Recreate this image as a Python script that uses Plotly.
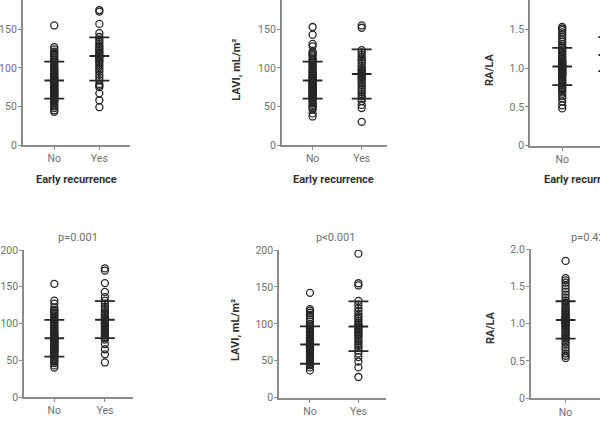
import plotly.graph_objects as go

W, H = 600, 431

groups = ["No", "Yes"]

# ---- data ----
a1_no = [155, 127, 124, 121, 119, 117, 115, 113, 111, 110, 108, 106, 104, 102, 100, 99, 97, 96, 94, 93, 91, 90, 89, 88, 87, 86, 85, 84, 83, 82, 81, 80, 79, 78, 77, 76, 75, 74, 73, 72, 71, 70, 69, 68, 67, 66, 65, 64, 63, 62, 61, 60, 59, 58, 57, 56, 54, 52, 50, 48, 45, 43]
a1_yes = [175, 173, 157, 145, 140, 137, 134, 131, 128, 126, 124, 122, 120, 118, 116, 114, 113, 111, 109, 107, 104, 101, 98, 95, 91, 88, 84, 79, 77, 75, 67, 58, 49]
a1_mean = [83.5, 115.5]
a1_low = [60, 83.5]
a1_high = [108, 139.5]

a2_no = [153, 143, 131, 128, 121, 119, 117, 115, 112, 110, 108, 106, 104, 102, 100, 98, 96, 95, 93, 91, 90, 88, 87, 86, 84, 83, 82, 81, 80, 79, 78, 77, 76, 75, 74, 73, 72, 71, 70, 69, 68, 67, 66, 65, 64, 63, 62, 61, 60, 58, 56, 54, 52, 50, 48, 46, 41, 37]
a2_yes = [155, 152, 123, 120, 117, 114, 111, 109, 106, 103, 100, 98, 96, 94, 92, 90, 88, 86, 84, 81, 78, 75, 72, 69, 66, 63, 60, 57, 52, 48, 30]
a2_mean = [83.5, 92]
a2_low = [60, 60]
a2_high = [108, 124]

a3_no = [1.53, 1.51, 1.49, 1.46, 1.43, 1.40, 1.37, 1.34, 1.31, 1.28, 1.26, 1.24, 1.22, 1.20, 1.18, 1.16, 1.14, 1.12, 1.10, 1.09, 1.08, 1.07, 1.06, 1.05, 1.04, 1.03, 1.02, 1.01, 1.00, 0.99, 0.98, 0.97, 0.96, 0.95, 0.94, 0.93, 0.92, 0.91, 0.90, 0.88, 0.86, 0.84, 0.82, 0.80, 0.78, 0.76, 0.74, 0.72, 0.70, 0.67, 0.64, 0.61, 0.57, 0.52, 0.48]
a3_yes = [1.62, 1.55, 1.48, 1.42, 1.38, 1.33, 1.28, 1.24, 1.20, 1.17, 1.14, 1.10, 1.06, 1.02, 0.98, 0.95, 0.90, 0.85, 0.80, 0.74]
a3_mean = [1.02, 1.17]
a3_low = [0.78, 0.96]
a3_high = [1.26, 1.40]

b1_no = [154, 131, 127, 122, 119, 117, 115, 113, 111, 109, 107, 105, 103, 101, 99, 97, 95, 93, 91, 89, 88, 86, 85, 84, 82, 81, 80, 79, 78, 77, 76, 75, 74, 73, 72, 71, 70, 69, 68, 67, 66, 65, 64, 63, 62, 61, 60, 58, 56, 54, 52, 50, 48, 46, 43, 40]
b1_yes = [175, 172, 155, 143, 136, 131, 127, 123, 120, 117, 114, 112, 110, 108, 106, 104, 102, 100, 98, 96, 94, 92, 90, 88, 86, 84, 82, 80, 78, 72, 65, 58, 47]
b1_mean = [80, 105]
b1_low = [55, 80]
b1_high = [105, 130.5]

b2_no = [142, 120, 118, 115, 112, 109, 106, 103, 100, 98, 96, 94, 92, 90, 88, 86, 84, 82, 80, 78, 77, 76, 75, 74, 73, 72, 71, 70, 69, 68, 67, 66, 65, 64, 63, 62, 61, 60, 58, 56, 54, 52, 50, 48, 46, 44, 41, 37]
b2_yes = [195, 155, 152, 131, 126, 121, 117, 113, 110, 107, 104, 101, 99, 97, 95, 93, 91, 89, 87, 85, 83, 80, 77, 74, 71, 68, 64, 60, 55, 49, 41, 28]
b2_mean = [72, 96.5]
b2_low = [46, 63]
b2_high = [96.5, 130.5]

b3_no = [1.84, 1.61, 1.58, 1.55, 1.51, 1.47, 1.43, 1.39, 1.35, 1.31, 1.28, 1.25, 1.22, 1.20, 1.18, 1.16, 1.14, 1.12, 1.10, 1.09, 1.08, 1.07, 1.06, 1.05, 1.04, 1.03, 1.02, 1.01, 1.00, 0.99, 0.98, 0.96, 0.94, 0.92, 0.90, 0.88, 0.86, 0.84, 0.82, 0.80, 0.78, 0.75, 0.72, 0.68, 0.64, 0.60, 0.57, 0.54]
b3_yes = [1.70, 1.52, 1.45, 1.38, 1.31, 1.25, 1.19, 1.14, 1.10, 1.06, 1.02, 0.98, 0.94, 0.90, 0.85, 0.80, 0.74, 0.66]
b3_mean = [1.05, 1.06]
b3_low = [0.80, 0.82]
b3_high = [1.30, 1.31]

vol_ticks = [0, 50, 100, 150, 200]
vol_ticktext = ["0", "50", "100", "150", "200"]
ratio_ticks = [0, 0.5, 1.0, 1.5, 2.0]
ratio_ticktext = ["0", "0.5", "1.0", "1.5", "2.0"]

p_values = ["p=0.001", "p<0.001", "p=0.428"]
x_title = "Early recurrence"
y_titles = ["LAVI, mL/m\u00b2", "RA/LA"]

# ---- layout geometry (pixels) ----
panels = [
    dict(no=a1_no, yes=a1_yes, mean=a1_mean, low=a1_low, high=a1_high,
         xpx=(22.7, 130), ypx=(0, 145), xr=[-0.70, 1.68], yr=[0, 188.0], tv=vol_ticks, tt=vol_ticktext),
    dict(no=a2_no, yes=a2_yes, mean=a2_mean, low=a2_low, high=a2_high,
         xpx=(281.7, 386.7), ypx=(0, 145), xr=[-0.63, 1.51], yr=[0, 188.0], tv=vol_ticks, tt=vol_ticktext),
    dict(no=a3_no, yes=a3_yes, mean=a3_mean, low=a3_low, high=a3_high,
         xpx=(530, 600), ypx=(0, 145.7), xr=[-0.70, 0.82], yr=[0, 1.877], tv=ratio_ticks, tt=ratio_ticktext),
    dict(no=b1_no, yes=b1_yes, mean=b1_mean, low=b1_low, high=b1_high,
         xpx=(24, 132.7), ypx=(250, 397), xr=[-0.60, 1.55], yr=[0, 200], tv=vol_ticks, tt=vol_ticktext),
    dict(no=b2_no, yes=b2_yes, mean=b2_mean, low=b2_low, high=b2_high,
         xpx=(279, 386), ypx=(250, 397.7), xr=[-0.64, 1.57], yr=[0, 200], tv=vol_ticks, tt=vol_ticktext),
    dict(no=b3_no, yes=b3_yes, mean=b3_mean, low=b3_low, high=b3_high,
         xpx=(530.7, 600), ypx=(249, 398.3), xr=[-0.76, 0.75], yr=[0, 2.0], tv=ratio_ticks, tt=ratio_ticktext),
]

FONT = "Roboto, Liberation Sans, sans-serif"
AXIS_COLOR = "#8c8c8c"
TICK_FONT = dict(family=FONT, size=10.5, color="#707070")
MARK = "#262626"

fig = go.Figure()
layout = dict(width=W, height=H, margin=dict(l=0, r=0, t=0, b=0, pad=0, autoexpand=False),
              paper_bgcolor="white", plot_bgcolor="white", showlegend=False)

for i, p in enumerate(panels):
    n = "" if i == 0 else str(i + 1)
    xa, ya = "x" + n, "y" + n
    for gi, vals in enumerate([p["no"], p["yes"]]):
        fig.add_trace(go.Scatter(
            x=[gi] * len(vals), y=vals, xaxis=xa, yaxis=ya, mode="markers",
            marker=dict(symbol="circle-open", size=7, color=MARK, line=dict(width=1.3, color=MARK)),
            hoverinfo="skip"))
    fig.add_trace(go.Scatter(
        x=list(range(len(groups))), y=p["mean"], xaxis=xa, yaxis=ya, mode="markers",
        marker=dict(symbol="line-ew", size=14, color=MARK, line=dict(width=2, color=MARK)),
        error_y=dict(type="data", symmetric=False,
                     array=[h - m for h, m in zip(p["high"], p["mean"])],
                     arrayminus=[m - l for m, l in zip(p["mean"], p["low"])],
                     width=10, thickness=1.8, color=MARK),
        hoverinfo="skip"))
    layout["xaxis" + n] = dict(
        domain=[p["xpx"][0] / W, min(p["xpx"][1] / W, 1.0)], anchor=ya, range=p["xr"],
        tickmode="array", tickvals=list(range(len(groups))), ticktext=groups,
        showline=True, linecolor=AXIS_COLOR, linewidth=1.6, ticks="outside", ticklen=3,
        tickcolor=AXIS_COLOR, tickwidth=1, showgrid=False, zeroline=False, tickfont=TICK_FONT,
        automargin=False)
    layout["yaxis" + n] = dict(
        domain=[1 - p["ypx"][1] / H, 1 - p["ypx"][0] / H], anchor=xa, range=p["yr"],
        tickmode="array", tickvals=p["tv"], ticktext=p["tt"],
        showline=True, linecolor=AXIS_COLOR, linewidth=1.6, ticks="outside", ticklen=3,
        tickcolor=AXIS_COLOR, tickwidth=1, showgrid=False, zeroline=False, tickfont=TICK_FONT,
        ticklabelstandoff=-1, automargin=False)

fig.update_layout(**layout)

TITLE_FONT = dict(family=FONT, size=11, color="#333333", weight="bold")
P_FONT = dict(family=FONT, size=11, color="#707070")

def ann(text, xpx, ypx, font, xanchor="center", angle=0):
    fig.add_annotation(text=text, x=xpx / W, y=1 - ypx / H, xref="paper", yref="paper",
                       xanchor=xanchor, yanchor="middle", showarrow=False,
                       textangle=angle, font=font)

# x-axis titles (top row)
ann(x_title, 76, 179, TITLE_FONT)
ann(x_title, 333.3, 179, TITLE_FONT)
ann(x_title, 541.7, 179, TITLE_FONT, xanchor="left")
# y-axis titles
ann(y_titles[0], 236.7, 70, TITLE_FONT, angle=-90)
ann(y_titles[0], 235, 330, TITLE_FONT, angle=-90)
ann(y_titles[1], 490, 70, TITLE_FONT, angle=-90)
ann(y_titles[1], 490, 328, TITLE_FONT, angle=-90)
# p values
ann(p_values[0], 78, 237.5, P_FONT)
ann(p_values[1], 335, 237, P_FONT)
ann(p_values[2], 569.3, 237, P_FONT, xanchor="left")

fig.write_html("out.html")
